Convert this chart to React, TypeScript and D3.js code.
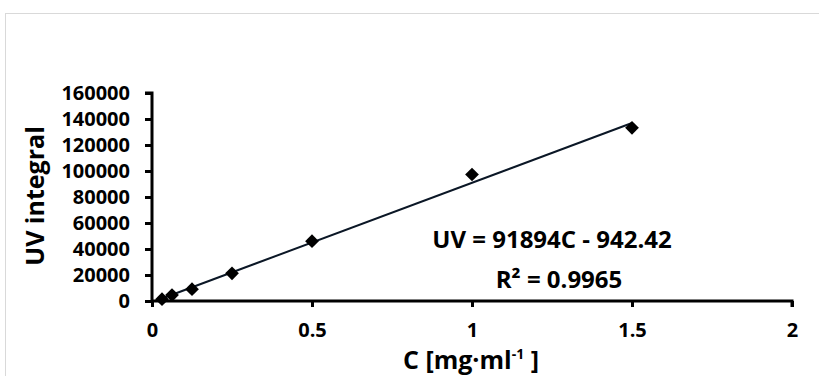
import React, { useEffect, useRef } from 'react';
import * as d3 from 'd3';

// concentration in mg/ml
const conc = [0.03125, 0.0625, 0.125, 0.25, 0.5, 1, 1.5];
// UV integral
const uv = [1400, 4600, 9100, 21300, 46000, 97300, 133200];
const xTicks = [0, 0.5, 1, 1.5, 2];
const yTicks = [0, 20000, 40000, 60000, 80000, 100000, 120000, 140000, 160000];
const slope = 91894;
const intercept = -942.42;

const W = 819;
const H = 376;
const font = "'Open Sans', sans-serif";

export default function App() {
  const ref = useRef<SVGSVGElement>(null);

  useEffect(() => {
    const svg = d3.select(ref.current);
    svg.selectAll('*').remove();

    svg.append('rect')
      .attr('x', 5.5).attr('y', 13.5)
      .attr('width', W - 4).attr('height', H - 12)
      .attr('fill', '#fff')
      .attr('stroke', '#d9d9d9');

    const x = d3.scaleLinear().domain([0, 2]).range([152, 792]);
    const y = d3.scaleLinear().domain([0, 160000]).range([301, 93]);

    // axes
    const xAxis = svg.append('g').attr('transform', `translate(0,${y(0)})`)
      .call(d3.axisBottom(x).tickValues(xTicks).tickSize(6).tickFormat(d => String(d)));
    const yAxis = svg.append('g').attr('transform', `translate(${x(0)},0)`)
      .call(d3.axisLeft(y).tickValues(yTicks).tickSize(7).tickFormat(d => String(d)));

    [xAxis, yAxis].forEach(g => {
      g.select('.domain').attr('stroke', '#000').attr('stroke-width', 3);
      g.selectAll('.tick line').attr('stroke', '#000').attr('stroke-width', 3);
      g.selectAll('.tick text')
        .attr('fill', '#000')
        .style('font-family', font)
        .style('font-weight', 700)
        .style('font-size', '20px');
    });
    xAxis.select('.domain').attr('d', `M${x(0)},0H${x(2)}V6`);
    yAxis.select('.domain').attr('d', `M-7,${y(160000)}H0V${y(0)}`);
    xAxis.selectAll('.tick text').attr('y', 36).attr('dy', 0);
    yAxis.selectAll('.tick text').attr('x', -22);

    // trendline
    const [x0, x1] = d3.extent(conc) as [number, number];
    svg.append('line')
      .attr('x1', x(x0)).attr('y1', y(slope * x0 + intercept))
      .attr('x2', x(x1)).attr('y2', y(slope * x1 + intercept))
      .attr('stroke', '#0b1726')
      .attr('stroke-width', 2);

    // points
    const sym = d3.symbol().type(d3.symbolDiamond2).size(120);
    svg.append('g')
      .selectAll('path')
      .data(conc)
      .enter()
      .append('path')
      .attr('transform', (d, i) => `translate(${x(d)},${y(uv[i])})`)
      .attr('d', sym)
      .attr('fill', '#000');

    // equation
    const eq = svg.append('g')
      .style('font-family', font)
      .style('font-weight', 700)
      .style('font-size', '24px')
      .attr('text-anchor', 'middle');
    eq.append('text').attr('x', 552).attr('y', 248).text('UV = 91894C - 942.42');
    eq.append('text').attr('x', 559).attr('y', 288).text('R² = 0.9965');

    // axis titles
    const xt = svg.append('text')
      .attr('x', 471).attr('y', 369)
      .attr('text-anchor', 'middle')
      .style('font-family', font)
      .style('font-weight', 700)
      .style('font-size', '25px');
    xt.append('tspan').text('C [mg·ml');
    xt.append('tspan').attr('dy', -10).style('font-size', '14px').text('-1');
    xt.append('tspan').attr('dy', 10).text(' ]');

    svg.append('text')
      .attr('transform', `translate(44,196) rotate(-90)`)
      .attr('text-anchor', 'middle')
      .style('font-family', font)
      .style('font-weight', 700)
      .style('font-size', '25px')
      .text('UV integral');
  }, []);

  return (
    <svg ref={ref} width={W} height={H} style={{ position: 'absolute', left: 0, top: 0 }} />
  );
}
